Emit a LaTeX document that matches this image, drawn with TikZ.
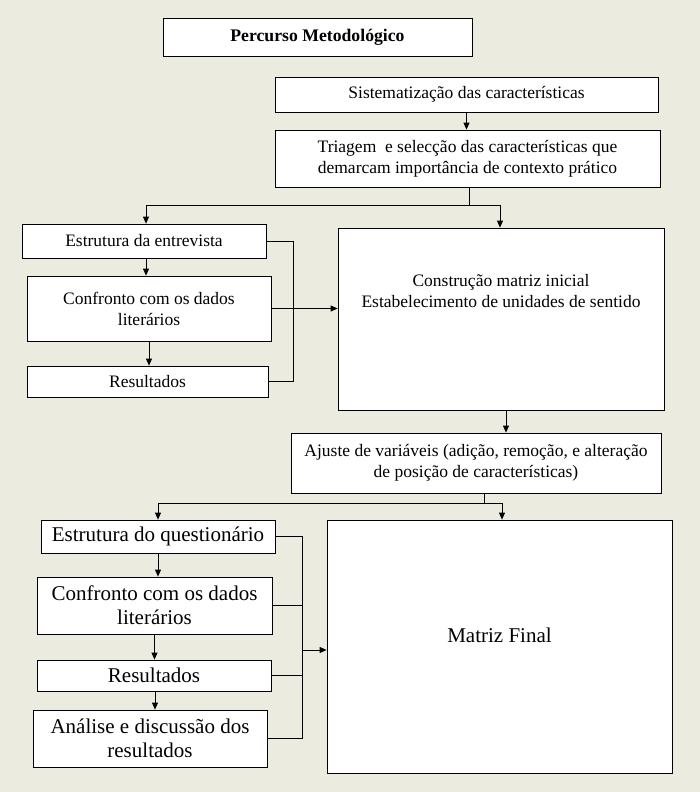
\documentclass[tikz,border=0pt]{standalone}
\usepackage{fontspec}
\setmainfont{Liberation Serif}
\usetikzlibrary{arrows.meta}
\definecolor{bgc}{RGB}{236,235,224}
\tikzset{
  box/.style={draw=black, fill=white, line width=0.8pt, inner sep=0pt, align=center},
  small/.style={font=\fontsize{17.5}{21}\selectfont},
  big/.style={font=\fontsize{21}{24}\selectfont},
  conn/.style={line width=0.8pt},
  arr/.style={line width=0.8pt, -{Triangle[length=7pt,width=6pt]}}
}
\begin{document}
\begin{tikzpicture}[x=1pt,y=-1pt]
\fill[bgc] (0,0) rectangle (700,792);
\useasboundingbox (0,0) rectangle (700,792);

\node[box, font=\fontsize{17.7}{21}\selectfont\bfseries, minimum width=309pt, minimum height=38pt] (title) at (317.5,37) {Percurso Metodológico};
\node[box, small, minimum width=383pt, minimum height=35pt] (sist) at (466.5,94.5) {Sistematização das características};
\node[box, small, minimum width=385pt, minimum height=57pt] (triag) at (467.5,158.5) {Triagem\ \ e selecção das características que\\demarcam importância de contexto prático};
\node[box, small, minimum width=244pt, minimum height=34pt] (estr1) at (144,241) {Estrutura da entrevista};
\node[box, small, minimum width=244pt, minimum height=65pt] (conf1) at (149,308.5) {Confronto com os dados\\literários};
\node[box, small, minimum width=241pt, minimum height=31pt] (res1) at (147.5,381.5) {Resultados};
\node[box, minimum width=326pt, minimum height=182pt] (constr) at (501,319) {};
\node[small, align=center, inner sep=0pt] (constrtxt) at (501,291) {Construção matriz inicial\\Estabelecimento de unidades de sentido};
\node[box, small, minimum width=370pt, minimum height=60pt] (ajuste) at (476,463) {Ajuste de variáveis (adição, remoção, e alteração\\de posição de características)};
\node[box, big, minimum width=234pt, minimum height=33pt] (estr2) at (158,536.5) {Estrutura do questionário};
\node[box, big, minimum width=235pt, minimum height=57pt] (conf2) at (154.5,605.5) {Confronto com os dados\\literários};
\node[box, big, minimum width=234pt, minimum height=31pt] (res2) at (154,675.5) {Resultados};
\node[box, big, minimum width=234pt, minimum height=57pt] (anal) at (150,738.5) {Análise e discussão dos\\resultados};
\node[box, minimum width=345pt, minimum height=253pt] (matriz) at (499.5,646.5) {};
\node[big, inner sep=0pt] (matriztxt) at (499.5,635) {Matriz Final};

% upper connectors
\draw[arr] (sist.south) -- (sist.south |- triag.north);
\coordinate (j1) at (469,205);
\draw[conn] (j1 |- triag.south) -- (j1);
\draw[arr] (j1) -| ([xshift=2pt]estr1.north);
\draw[arr] (j1) -| ([xshift=-1pt]constr.north);
\draw[arr] ([xshift=2pt]estr1.south) -- ([xshift=2pt]estr1.south |- conf1.north);
\draw[arr] (conf1.south) -- (conf1.south |- res1.north);
\coordinate (b1) at (293,300);
\draw[conn] (estr1.east) -| (b1 |- res1.east) -- (res1.east);
\draw[arr] (conf1.east) -- (conf1.east -| constr.west);
\draw[arr] ([xshift=5pt]constr.south) -- ([xshift=5pt]constr.south |- ajuste.north);

% lower connectors
\coordinate (j2) at (484,503);
\draw[conn] (j2 |- ajuste.south) -- (j2);
\draw[arr] (j2) -| (estr2.north);
\draw[arr] (j2) -| ([xshift=2.5pt]matriz.north);
\draw[arr] (estr2.south) -- (estr2.south |- conf2.north);
\draw[arr] (conf2.south) -- (conf2.south |- res2.north);
\draw[arr] ([xshift=1pt]res2.south) -- ([xshift=1pt]res2.south |- anal.north);
\coordinate (b2) at (302,650);
\draw[conn] (estr2.east) -| (b2 |- anal.east) -- (anal.east);
\draw[conn] (conf2.east) -- (conf2.east -| b2);
\draw[conn] (res2.east) -- (res2.east -| b2);
\draw[arr] (b2) -- (b2 -| matriz.west);
\end{tikzpicture}
\end{document}
